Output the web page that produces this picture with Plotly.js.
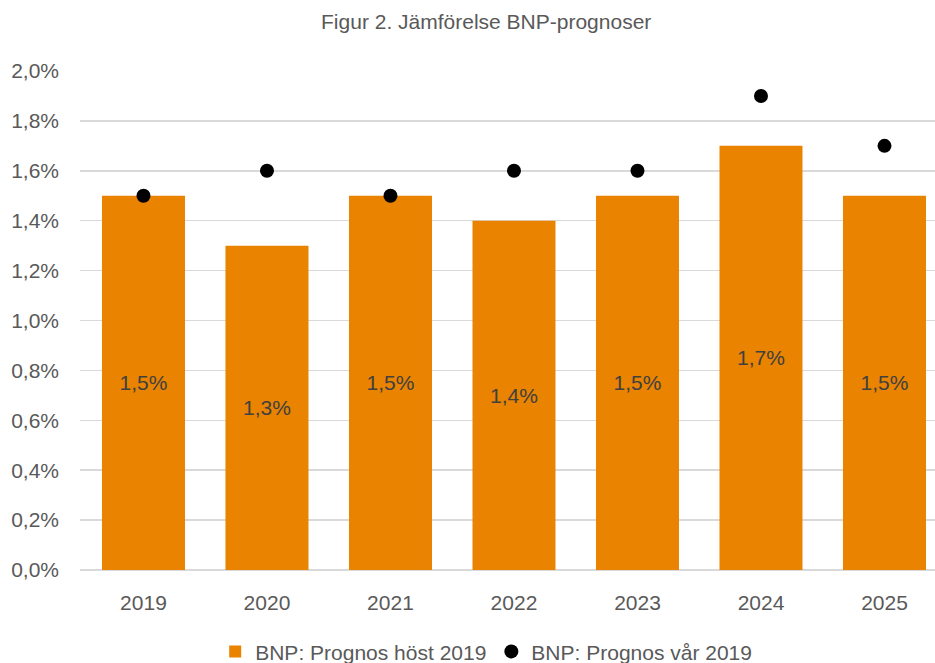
<!DOCTYPE html>
<html>
<head>
<meta charset="utf-8">
<script src="https://cdn.plot.ly/plotly-3.0.1.min.js"></script>
<style>
  html, body { margin: 0; padding: 0; background: #fff; }
  #chart { width: 935px; height: 663px; }
</style>
</head>
<body>
<div id="chart"></div>
<script>
// GDP forecast comparison, per year (percent)
const years = ['2019', '2020', '2021', '2022', '2023', '2024', '2025'];
const autumnForecast = [1.5, 1.3, 1.5, 1.4, 1.5, 1.7, 1.5];   // BNP: Prognos höst 2019
const springForecast = [1.5, 1.6, 1.5, 1.6, 1.6, 1.9, 1.7];   // BNP: Prognos vår 2019
const yTicks = [0, 0.2, 0.4, 0.6, 0.8, 1.0, 1.2, 1.4, 1.6, 1.8, 2.0];
const yTickText = yTicks.map(v => v.toFixed(1).replace('.', ',') + '%');

const FONT = 'Liberation Sans, Arial, sans-serif';
const GREY = '#595959';

const traces = [
  {
    type: 'bar',
    name: 'BNP: Prognos höst 2019',
    x: years,
    y: autumnForecast,
    marker: { color: '#E98300' },
    text: autumnForecast.map(v => v.toFixed(1).replace('.', ',') + '%'),
    textposition: 'inside',
    insidetextanchor: 'middle',
    textangle: 0,
    insidetextfont: { family: FONT, size: 21, color: '#404040' },
    hoverinfo: 'x+y'
  },
  {
    type: 'scatter',
    mode: 'markers',
    name: 'BNP: Prognos vår 2019',
    x: years,
    y: springForecast,
    marker: { color: '#000000', size: 14 },
    hoverinfo: 'x+y'
  }
];

const layout = {
  width: 935,
  height: 663,
  separators: ', ',
  paper_bgcolor: '#ffffff',
  plot_bgcolor: '#ffffff',
  font: { family: FONT, color: GREY, size: 21 },
  margin: { l: 80, r: 0, t: 71, b: 93 },
  bargap: 0.328,
  showlegend: true,
  title: {
    text: 'Figur 2. Jämförelse BNP-prognoser',
    font: { family: FONT, size: 21, color: GREY },
    xref: 'container', x: 0.52, xanchor: 'center',
    yref: 'container', y: 0.967, yanchor: 'middle'
  },
  xaxis: {
    type: 'category',
    range: [-0.514, 6.409],
    showgrid: false,
    showline: false,
    zeroline: false,
    ticks: '',
    ticklabelstandoff: 18,
    tickfont: { family: FONT, size: 21, color: GREY }
  },
  yaxis: {
    range: [0, 2.0],
    tickvals: yTicks,
    ticktext: yTickText,
    showgrid: true,
    gridcolor: '#D9D9D9',
    gridwidth: 1.5,
    zeroline: true,
    zerolinecolor: '#D9D9D9',
    zerolinewidth: 1.5,
    showline: false,
    ticks: '',
    ticklabelstandoff: 20,
    tickfont: { family: FONT, size: 21, color: GREY },
    fixedrange: true
  },
  legend: {
    orientation: 'h',
    xref: 'container', x: 0.52, xanchor: 'center',
    yref: 'container', y: 0.017, yanchor: 'middle',
    font: { family: FONT, size: 21, color: GREY },
    itemwidth: 30,
    traceorder: 'normal'
  }
};

Plotly.newPlot('chart', traces, layout, { displayModeBar: false, staticPlot: true });
</script>
</body>
</html>
